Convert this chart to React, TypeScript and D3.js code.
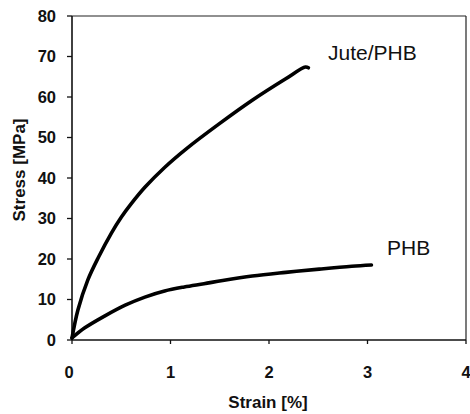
import React from "react";
import * as d3 from "d3";

const juteStrain = [0, 0.06, 0.16, 0.27, 0.4, 0.5, 0.6, 0.74, 0.94, 1.16, 1.49, 1.83, 2.17, 2.37, 2.4];
const juteStress = [0.5, 7.4, 14.8, 20.5, 26.4, 30.3, 33.6, 37.7, 42.6, 47.2, 53.3, 59.2, 64.5, 67.4, 67.2];
const phbStrain = [0, 0.13, 0.33, 0.54, 0.74, 0.94, 1.14, 1.34, 1.53, 1.83, 2.17, 2.51, 2.84, 3.04];
const phbStress = [0.5, 3.0, 5.9, 8.6, 10.6, 12.1, 13.1, 13.9, 14.7, 15.8, 16.7, 17.5, 18.2, 18.5];
const xTicks = [0, 1, 2, 3, 4];
const yTicks = [0, 10, 20, 30, 40, 50, 60, 70, 80];
const seriesLabels = ["Jute/PHB", "PHB"];

const W = 470;
const H = 414;
const FONT = "'Liberation Sans', Arial, Helvetica, sans-serif";

export default function App() {
  const x = d3.scaleLinear().domain([0, 4]).range([72, 466]);
  const y = d3.scaleLinear().domain([0, 80]).range([340, 16]);
  const line = d3
    .line<[number, number]>()
    .x((d) => x(d[0]))
    .y((d) => y(d[1]))
    .curve(d3.curveCatmullRom.alpha(0.5));
  const jute: [number, number][] = juteStrain.map((s, i) => [s, juteStress[i]]);
  const phb: [number, number][] = phbStrain.map((s, i) => [s, phbStress[i]]);
  const [x0, x1] = x.range();
  const [yb, yt] = y.range();

  return (
    <svg
      width={W}
      height={H}
      style={{ position: "absolute", left: 0, top: 0, background: "#fff" }}
      fontFamily={FONT}
    >
      <rect x={0} y={0} width={W} height={H} fill="#fff" />
      {/* frame */}
      <line x1={x0} y1={yt} x2={x1} y2={yt} stroke="#222" strokeWidth={1.2} />
      <line x1={x1} y1={yt} x2={x1} y2={yb} stroke="#222" strokeWidth={1.2} />
      <line x1={x0} y1={yb} x2={x1} y2={yb} stroke="#111" strokeWidth={1.5} />
      <line x1={x0} y1={yt} x2={x0} y2={yb} stroke="#111" strokeWidth={1.6} />
      {/* y ticks */}
      {yTicks.map((t) => (
        <g key={"y" + t}>
          <line x1={x0 - 5} x2={x0} y1={y(t)} y2={y(t)} stroke="#111" strokeWidth={1.3} />
          <text
            x={56}
            y={y(t)}
            dy="0.36em"
            textAnchor="end"
            fontSize={16.5}
            fontWeight="bold"
            fill="#111"
          >
            {t}
          </text>
        </g>
      ))}
      {/* x ticks */}
      {xTicks.map((t) => (
        <g key={"x" + t}>
          <line x1={x(t)} x2={x(t)} y1={yb} y2={yb + 4} stroke="#111" strokeWidth={1.3} />
          <text
            x={x(t) - (t === 0 ? 3 : 0)}
            y={378}
            textAnchor="middle"
            fontSize={16.5}
            fontWeight="bold"
            fill="#111"
          >
            {t}
          </text>
        </g>
      ))}
      {/* curves */}
      <path d={line(jute) || ""} fill="none" stroke="#000" strokeWidth={3.6} strokeLinecap="round" strokeLinejoin="round" />
      <path d={line(phb) || ""} fill="none" stroke="#000" strokeWidth={3.6} strokeLinecap="round" strokeLinejoin="round" />
      {/* series labels */}
      <text x={328} y={60} fontSize={21} fill="#111">
        {seriesLabels[0]}
      </text>
      <text x={387} y={255} fontSize={21} fill="#111">
        {seriesLabels[1]}
      </text>
      {/* axis titles */}
      <text x={268} y={408} textAnchor="middle" fontSize={17} fontWeight="bold" fill="#111">
        Strain [%]
      </text>
      <text
        transform={`translate(25,170) rotate(-90)`}
        textAnchor="middle"
        fontSize={17}
        fontWeight="bold"
        fill="#111"
      >
        Stress [MPa]
      </text>
    </svg>
  );
}
